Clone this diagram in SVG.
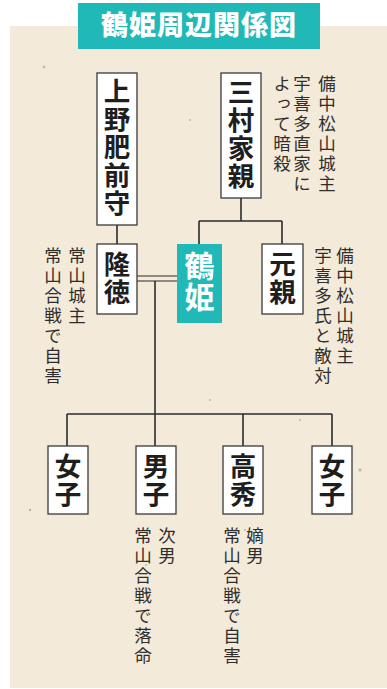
<svg xmlns="http://www.w3.org/2000/svg" width="387" height="689" viewBox="0 0 387 689">
<style>
.box{fill:#fff;stroke:#3a3a3a;stroke-width:1.3}
.lbl{font-family:"Noto Sans CJK JP","Noto Sans CJK SC",sans-serif;font-weight:700;font-size:26.5px;fill:#1e1e1e;writing-mode:vertical-rl;letter-spacing:1.5px}
.note{font-family:"Noto Sans CJK JP","Noto Sans CJK SC",sans-serif;font-size:17.5px;fill:#2e2e2e;writing-mode:vertical-rl;letter-spacing:2.5px}
.ln{stroke:#2a2a2a;stroke-width:1.6;fill:none}
</style>
<rect x="0" y="0" width="387" height="689" fill="#fff"/>
<rect x="10" y="26" width="377" height="662" fill="#f4ead9"/>
<g fill="#9a8f80" opacity="0.6">
<circle cx="44" cy="67" r="1.2"/><circle cx="72" cy="449" r="2"/><circle cx="350" cy="335" r="1"/><circle cx="146" cy="565" r="1"/><circle cx="245" cy="530" r="1"/><circle cx="190" cy="120" r="1"/><circle cx="30" cy="510" r="1.2"/><circle cx="300" cy="420" r="1"/><circle cx="360" cy="470" r="1.5"/><circle cx="210" cy="400" r="1"/>
</g>
<g id="title">
<rect x="78" y="3" width="242" height="46" fill="#20b9b7"/>
<text x="199" y="35" text-anchor="middle" font-family="'Noto Sans CJK JP','Noto Sans CJK SC',sans-serif" font-weight="900" font-size="27" fill="#fff" letter-spacing="1">鶴姫周辺関係図</text>
</g>
<g id="connectors" class="ln">
<line x1="117" y1="225" x2="117" y2="244"/>
<line x1="241" y1="198" x2="241" y2="221"/>
<line x1="199" y1="221" x2="282" y2="221"/>
<line x1="199" y1="221" x2="199" y2="244"/>
<line x1="282" y1="221" x2="282" y2="244"/>
<line x1="137" y1="276" x2="177" y2="276" stroke-width="1.2"/>
<line x1="137" y1="281" x2="177" y2="281" stroke-width="1.2"/>
<line x1="155" y1="281" x2="155" y2="414"/>
<line x1="67" y1="414" x2="332" y2="414"/>
<line x1="67" y1="414" x2="67" y2="446"/>
<line x1="155" y1="414" x2="155" y2="446"/>
<line x1="243" y1="414" x2="243" y2="446"/>
<line x1="332" y1="414" x2="332" y2="446"/>
</g>
<g id="ueno">
<rect class="box" x="97" y="73" width="40" height="152"/>
<text class="lbl" x="117" y="78">上野肥前守</text>
</g>
<g id="mimura">
<rect class="box" x="221" y="73" width="40" height="125"/>
<text class="lbl" x="241" y="79">三村家親</text>
<text class="note" x="327" y="75">備中松山城主</text>
<text class="note" x="302" y="75">宇喜多直家に</text>
<text class="note" x="282" y="75">よって暗殺</text>
</g>
<g id="takanori">
<rect class="box" x="97" y="244" width="40" height="70"/>
<text class="lbl" x="117" y="251">隆徳</text>
<text class="note" x="77" y="247">常山城主</text>
<text class="note" x="53" y="247">常山合戦で自害</text>
</g>
<g id="tsuruhime">
<rect x="177" y="244" width="45" height="79" fill="#20b9b7"/>
<text class="lbl" x="199.5" y="251" style="fill:#fff;font-size:30px;letter-spacing:1px">鶴姫</text>
</g>
<g id="motochika">
<rect class="box" x="262" y="244" width="41" height="70"/>
<text class="lbl" x="282.5" y="251">元親</text>
<text class="note" x="345" y="247">備中松山城主</text>
<text class="note" x="323" y="247">宇喜多氏と敵対</text>
</g>
<g id="daughter1">
<rect class="box" x="48" y="446" width="40" height="68"/>
<text class="lbl" x="68" y="453">女子</text>
</g>
<g id="son">
<rect class="box" x="136" y="446" width="40" height="68"/>
<text class="lbl" x="156" y="453">男子</text>
<text class="note" x="167" y="527">次男</text>
<text class="note" x="143" y="527">常山合戦で落命</text>
</g>
<g id="takahide">
<rect class="box" x="223" y="446" width="40" height="68"/>
<text class="lbl" x="243" y="453">高秀</text>
<text class="note" x="255" y="527">嫡男</text>
<text class="note" x="232" y="527">常山合戦で自害</text>
</g>
<g id="daughter2">
<rect class="box" x="312" y="446" width="40" height="68"/>
<text class="lbl" x="332" y="453">女子</text>
</g>
</svg>
